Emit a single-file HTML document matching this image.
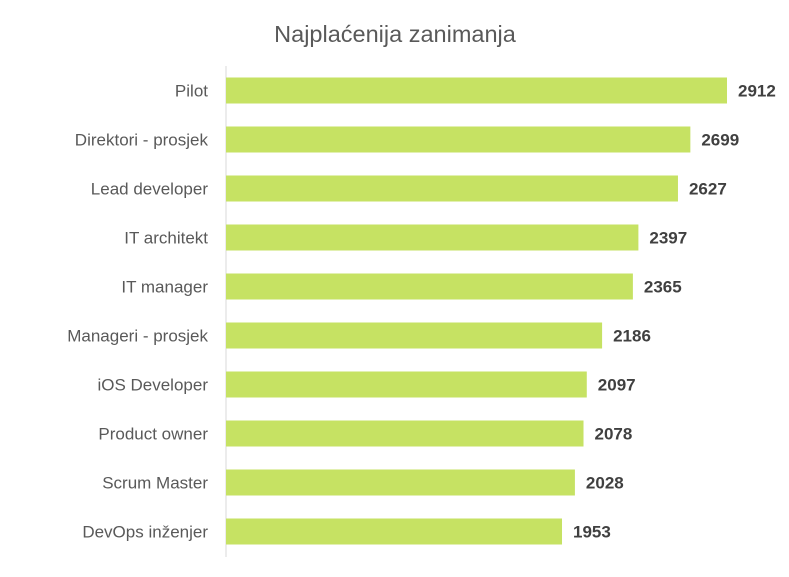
<!DOCTYPE html>
<html><head><meta charset="utf-8"><style>
body{margin:0;background:#fff;}
svg{display:block;font-family:"Liberation Sans","DejaVu Sans",sans-serif;}
</style></head><body>
<svg id="chart" width="789" height="577">
<text x="395" y="42" text-anchor="middle" font-size="23.5" fill="#595959">Najplaćenija zanimanja</text>
<line x1="226" y1="66" x2="226" y2="557" stroke="#d9d9d9" stroke-width="1"/>
<g id="bars"></g>
</svg>
<script>
const categories=["Pilot","Direktori - prosjek","Lead developer","IT architekt","IT manager","Manageri - prosjek","iOS Developer","Product owner","Scrum Master","DevOps inženjer"];
const values=[2912,2699,2627,2397,2365,2186,2097,2078,2028,1953];
const x0=226, pxPerUnit=501/2912, yTop=66, band=49, barH=26;
const xs=v=>x0+v*pxPerUnit;
const yc=i=>yTop+band*i+band/2;
const g=document.getElementById('bars');
const ns="http://www.w3.org/2000/svg";
categories.forEach((c,i)=>{
  const r=document.createElementNS(ns,'rect');
  r.setAttribute('x',x0);r.setAttribute('y',yc(i)-barH/2);
  r.setAttribute('width',xs(values[i])-x0);r.setAttribute('height',barH);
  r.setAttribute('fill','#c6e263');
  
  
  g.appendChild(r);
  const t=document.createElementNS(ns,'text');
  t.setAttribute('x',208);t.setAttribute('y',yc(i)+6);
  t.setAttribute('text-anchor','end');t.setAttribute('font-size','17');t.setAttribute('fill','#595959');
  t.textContent=c;
  
  
  g.appendChild(t);
  const v=document.createElementNS(ns,'text');
  v.setAttribute('x',xs(values[i])+11);v.setAttribute('y',yc(i)+6);
  v.setAttribute('font-size','17');v.setAttribute('font-weight','bold');v.setAttribute('fill','#404040');
  v.textContent=values[i];
  
  
  g.appendChild(v);
});
</script>
</body></html>
